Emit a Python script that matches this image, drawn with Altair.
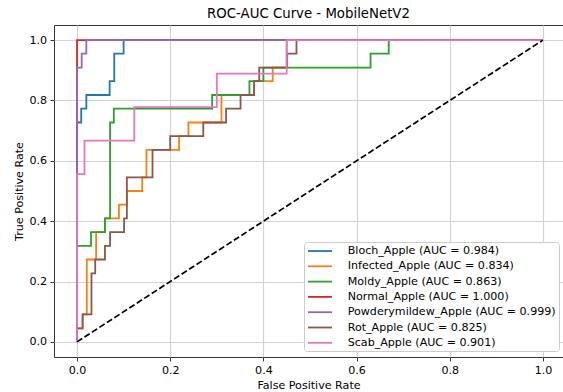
import altair as alt
import pandas as pd

# ---- data ----
classes = ["Bloch_Apple", "Infected_Apple", "Moldy_Apple", "Normal_Apple",
           "Powderymildew_Apple", "Rot_Apple", "Scab_Apple"]
auc_values = [0.984, 0.834, 0.863, 1.000, 0.999, 0.825, 0.901]
colors = ["#1f77b4", "#ff7f0e", "#2ca02c", "#d62728", "#9467bd", "#8c564b", "#e377c2"]

bloch_fpr = [0, 0, 0.009, 0.009, 0.02, 0.02, 0.07, 0.07, 0.08, 0.08, 0.1, 0.1, 1]
bloch_tpr = [0, 0.727, 0.727, 0.773, 0.773, 0.818, 0.818, 0.864, 0.864, 0.955, 0.955, 1, 1]

infected_fpr = [0, 0, 0.012, 0.012, 0.021, 0.021, 0.041, 0.041, 0.06, 0.06, 0.09, 0.09,
                0.107, 0.107, 0.14, 0.14, 0.149, 0.149, 0.219, 0.219, 0.239, 0.239,
                0.31, 0.31, 0.38, 0.38, 0.42, 0.42, 0.45, 0.45, 1]
infected_tpr = [0, 0.045, 0.045, 0.091, 0.091, 0.273, 0.273, 0.364, 0.364, 0.409, 0.409,
                0.455, 0.455, 0.5, 0.5, 0.545, 0.545, 0.636, 0.636, 0.682, 0.682,
                0.727, 0.727, 0.818, 0.818, 0.864, 0.864, 0.909, 0.909, 1, 1]

moldy_fpr = [0, 0, 0.03, 0.03, 0.06, 0.06, 0.071, 0.071, 0.079, 0.079, 0.29, 0.29,
             0.37, 0.37, 0.4, 0.4, 0.63, 0.63, 0.669, 0.669, 1]
moldy_tpr = [0, 0.318, 0.318, 0.364, 0.364, 0.409, 0.409, 0.727, 0.727, 0.773, 0.773,
             0.818, 0.818, 0.864, 0.864, 0.909, 0.909, 0.955, 0.955, 1, 1]

normal_fpr = [0, 0, 1]
normal_tpr = [0, 1, 1]

powdery_fpr = [0, 0, 0.01, 0.01, 0.02, 0.02, 1]
powdery_tpr = [0, 0.909, 0.909, 0.955, 0.955, 1, 1]

rot_fpr = [0, 0, 0.012, 0.012, 0.031, 0.031, 0.039, 0.039, 0.06, 0.06, 0.071, 0.071,
           0.101, 0.101, 0.107, 0.107, 0.162, 0.162, 0.2, 0.2, 0.271, 0.271,
           0.32, 0.32, 0.351, 0.351, 0.38, 0.38, 0.391, 0.391, 0.451, 0.451,
           0.471, 0.471, 1]
rot_tpr = [0, 0.045, 0.045, 0.091, 0.091, 0.227, 0.227, 0.273, 0.273, 0.318, 0.318,
           0.364, 0.364, 0.409, 0.409, 0.545, 0.545, 0.636, 0.636, 0.682, 0.682,
           0.727, 0.727, 0.773, 0.773, 0.818, 0.818, 0.864, 0.864, 0.909, 0.909,
           0.955, 0.955, 1, 1]

scab_fpr = [0, 0, 0.016, 0.016, 0.123, 0.123, 0.3, 0.3, 0.45, 0.45, 1]
scab_tpr = [0, 0.556, 0.556, 0.667, 0.667, 0.778, 0.778, 0.889, 0.889, 1, 1]

diag_x = [0, 1]
diag_y = [0, 1]

tick_values = [0.0, 0.2, 0.4, 0.6, 0.8, 1.0]

# ---- build table ----
all_fpr = [bloch_fpr, infected_fpr, moldy_fpr, normal_fpr, powdery_fpr, rot_fpr, scab_fpr]
all_tpr = [bloch_tpr, infected_tpr, moldy_tpr, normal_tpr, powdery_tpr, rot_tpr, scab_tpr]
labels = [f"{c} (AUC = {a:.3f})" for c, a in zip(classes, auc_values)]

rows = []
for lab, fpr, tpr in zip(labels, all_fpr, all_tpr):
    for i, (x, y) in enumerate(zip(fpr, tpr)):
        rows.append({"label": lab, "fpr": x, "tpr": y, "i": i})
df = pd.DataFrame(rows)
diag_df = pd.DataFrame({"fpr": diag_x, "tpr": diag_y})

# the reference's axes run a little past the right edge of the picture
x_scale = alt.Scale(domain=[-0.0494, 1.043], nice=False, zero=False)
y_scale = alt.Scale(domain=[-0.05, 1.05], nice=False, zero=False)

curves = alt.Chart(df).mark_line(strokeWidth=1.8, strokeCap="butt", strokeJoin="miter").encode(
    x=alt.X("fpr:Q", scale=x_scale,
            axis=alt.Axis(values=tick_values, format=".1f", title="False Positive Rate")),
    y=alt.Y("tpr:Q", scale=y_scale,
            axis=alt.Axis(values=tick_values, format=".1f", title="True Positive Rate")),
    color=alt.Color("label:N", scale=alt.Scale(domain=labels, range=colors),
                    legend=alt.Legend(
                        title=None, orient="none", legendX=250, legendY=217,
                        symbolType="M-2.4,0H2.4", symbolSize=100, symbolStrokeWidth=1.8,
                        symbolOffset=7, labelOffset=21.7,
                        labelFont="DejaVu Sans", labelFontSize=11.1, labelColor="black",
                        labelLimit=400, rowPadding=3.3, padding=3,
                        fillColor="white", strokeColor="#cccccc", cornerRadius=3)),
    order=alt.Order("i:Q"),
)

diag = alt.Chart(diag_df).mark_line(color="black", strokeDash=[6.2, 2.7], strokeWidth=1.7).encode(
    x=alt.X("fpr:Q", scale=x_scale),
    y=alt.Y("tpr:Q", scale=y_scale),
)

chart = alt.layer(curves, diag).properties(
    width=509, height=332,
    title=alt.TitleParams("ROC-AUC Curve - MobileNetV2", font="DejaVu Sans", fontSize=13.3,
                          fontWeight="normal", color="black", anchor="middle",
                          frame="group", offset=5),
    padding={"left": 54, "top": 25, "right": 0, "bottom": 35},
    autosize=alt.AutoSizeParams(type="none"),
).configure_view(
    stroke="#333333", strokeWidth=1
).configure_axis(
    grid=True, gridColor="#d3d3d3", gridWidth=1.2, domain=False,
    tickColor="#333333", tickSize=3.9, tickWidth=1, labelPadding=3.5,
    labelFont="DejaVu Sans", labelFontSize=11.1, labelColor="black",
    titleFont="DejaVu Sans", titleFontSize=11.1, titleFontWeight="normal",
    titleColor="black", titlePadding=4,
)

chart.save("out.html", embed_options={"renderer": "svg", "actions": False})
